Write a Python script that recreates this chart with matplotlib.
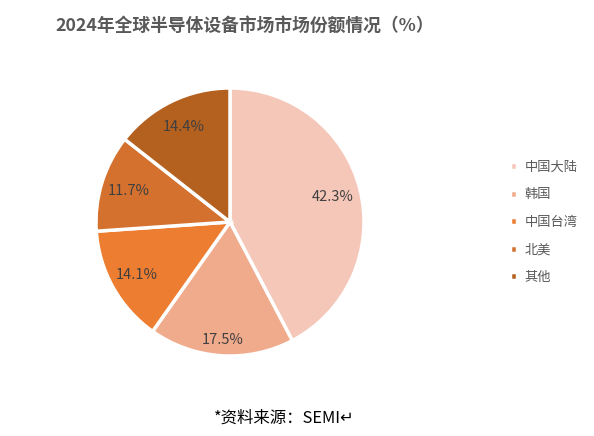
import matplotlib as mpl
mpl.use('Agg')
from matplotlib import pyplot as plt
import numpy as np

plt.rcParams['font.family'] = ['Noto Sans CJK SC', 'DejaVu Sans']

title = '2024年全球半导体设备市场市场份额情况（%）'
regions = ['中国大陆', '韩国', '中国台湾', '北美', '其他']
shares = [42.3, 17.5, 14.1, 11.7, 14.4]
colors = ['#F4C7B9', '#F0AA8C', '#ED7D31', '#D4712E', '#B4601F']
source = '*资料来源：SEMI↵'

# label distance from centre for each slice (fraction of radius)
label_dist = [0.79, 0.88, 0.8, 0.79, 0.79]

fig = plt.figure(figsize=(5.94, 4.36), dpi=100)
ax = fig.add_axes([0.1616, 0.1835, 0.4512, 0.6147])

wedges, texts, autotexts = ax.pie(
  shares, colors=colors, startangle=90, counterclock=False,
  autopct='%.1f%%', pctdistance=0.8,
  wedgeprops=dict(edgecolor='white', linewidth=2.5),
  textprops=dict(fontsize=10.5, color='#404040'))
for w, t, d in zip(wedges, autotexts, label_dist):
  ang = np.deg2rad((w.theta1 + w.theta2) / 2)
  t.set_position((d * np.cos(ang), d * np.sin(ang)))
ax.set_xlim(-1, 1)
ax.set_ylim(-1, 1)
ax.set_aspect('equal')

fig.text(0.412, 0.942, title, ha='center', va='center', fontsize=12.8,
         fontweight='bold', color='#595959')

leg = fig.legend(wedges, regions, loc='center left', bbox_to_anchor=(0.838, 0.49),
                 frameon=False, fontsize=9.5, handlelength=0.55, handleheight=0.55,
                 labelspacing=1.1, handletextpad=0.6, labelcolor='#595959')

fig.text(0.478, 0.04, source, ha='center', va='center', fontsize=11.8, color='#000000')

fig.savefig('out.png', dpi=100)
